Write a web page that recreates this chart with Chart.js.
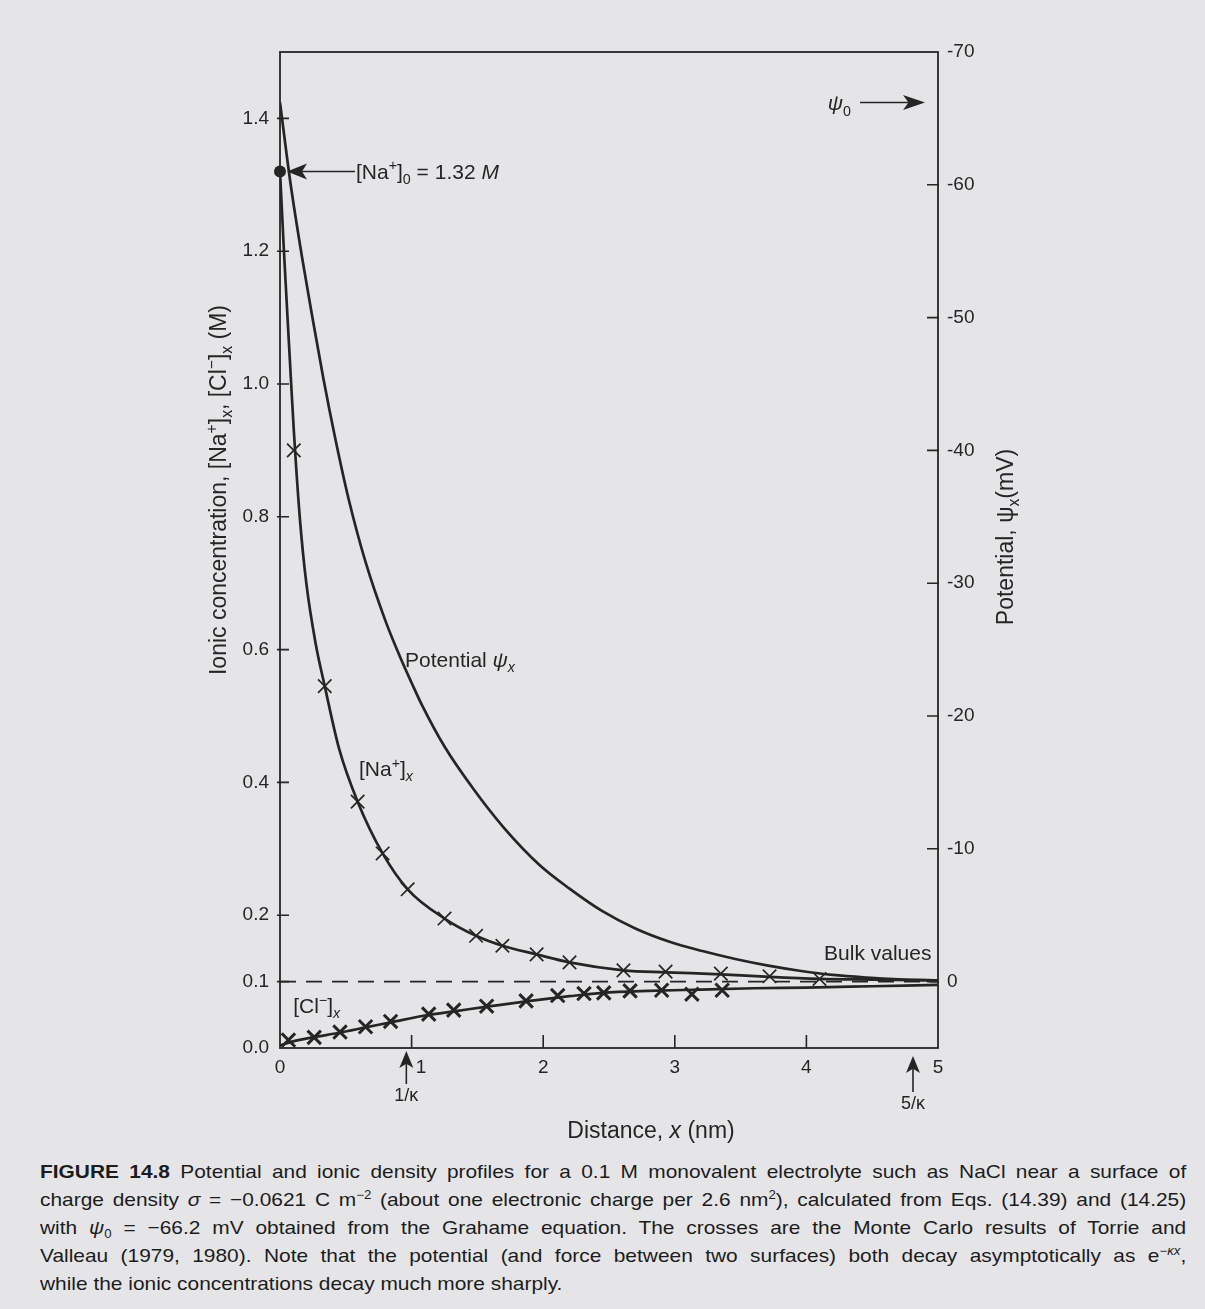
<!DOCTYPE html>
<html><head><meta charset="utf-8">
<script src="https://cdn.jsdelivr.net/npm/chart.js@4.4.0/dist/chart.umd.min.js"></script>
<style>
html,body{margin:0;padding:0;background:#e5e5e7;}
body{width:1205px;height:1309px;position:relative;overflow:hidden;}
#c{position:absolute;left:0;top:0;}
#cap{position:absolute;left:40px;top:1158px;width:1042px;font-family:"Liberation Sans",Arial,sans-serif;font-size:19px;color:#1c1c1c;line-height:28px;transform:scaleX(1.1);transform-origin:0 0;}
#cap .j{text-align:justify;text-align-last:justify;}
#cap sup{font-size:12px;line-height:0;vertical-align:7px;}
#cap sub{font-size:12px;line-height:0;vertical-align:-4px;}
</style></head><body>
<canvas id="c" width="1205" height="1150"></canvas>
<div id="cap">
<div class="j"><b>FIGURE 14.8</b> Potential and ionic density profiles for a 0.1 M monovalent electrolyte such as NaCl near a surface of</div>
<div class="j">charge density <i>σ</i> = −0.0621 C m<sup>−2</sup> (about one electronic charge per 2.6 nm<sup>2</sup>), calculated from Eqs. (14.39) and (14.25)</div>
<div class="j">with <i>ψ</i><sub>0</sub> = −66.2 mV obtained from the Grahame equation. The crosses are the Monte Carlo results of Torrie and</div>
<div class="j">Valleau (1979, 1980). Note that the potential (and force between two surfaces) both decay asymptotically as e<sup>−<i>κx</i></sup>,</div>
<div>while the ionic concentrations decay much more sharply.</div>
</div>
<script>
// ---- data ----
const potentialX  = [0, 0.08, 0.17, 0.25, 0.33, 0.42, 0.52, 0.65, 0.8, 0.91, 1.0, 1.08, 1.25, 1.47, 1.7, 1.97, 2.2, 2.45, 2.7, 2.96, 3.21, 3.46, 3.71, 3.96, 4.2, 4.46, 4.7, 5.0];
const potentialMv = [-66.2, -60.1, -54.4, -49.8, -45.4, -40.9, -36.4, -31.6, -27.2, -24.5, -22.5, -20.8, -17.7, -14.5, -11.6, -8.8, -7.0, -5.3, -4.0, -3.0, -2.3, -1.7, -1.2, -0.8, -0.5, -0.3, -0.17, -0.08];

const naX = [0, 0.03, 0.06, 0.085, 0.105, 0.15, 0.2, 0.27, 0.34, 0.45, 0.59, 0.78, 0.97, 1.25, 1.49, 1.69, 1.95, 2.2, 2.61, 2.93, 3.35, 3.72, 4.1, 4.5, 5.0];
const naM = [1.32, 1.2, 1.09, 1.0, 0.93, 0.80, 0.70, 0.61, 0.545, 0.45, 0.371, 0.293, 0.239, 0.195, 0.169, 0.154, 0.141, 0.129, 0.117, 0.114, 0.111, 0.107, 0.104, 0.103, 0.102];

const clX = [0, 0.1, 0.25, 0.45, 0.65, 0.85, 1.1, 1.35, 1.6, 1.9, 2.2, 2.45, 2.8, 3.2, 3.6, 4.0, 4.5, 5.0];
const clM = [0.004, 0.010, 0.016, 0.023, 0.031, 0.039, 0.049, 0.056, 0.063, 0.071, 0.078, 0.083, 0.086, 0.088, 0.090, 0.091, 0.093, 0.095];

const naMcX = [0.105, 0.34, 0.59, 0.78, 0.97, 1.25, 1.49, 1.69, 1.95, 2.2, 2.61, 2.93, 3.35, 3.72, 4.1];
const naMcM = [0.90, 0.545, 0.371, 0.293, 0.239, 0.195, 0.169, 0.154, 0.141, 0.129, 0.117, 0.115, 0.112, 0.108, 0.104];

const clMcX = [0.064, 0.26, 0.456, 0.65, 0.84, 1.13, 1.32, 1.57, 1.87, 2.11, 2.31, 2.46, 2.66, 2.9, 3.13, 3.36];
const clMcM = [0.012, 0.016, 0.024, 0.032, 0.040, 0.051, 0.057, 0.063, 0.071, 0.079, 0.082, 0.083, 0.086, 0.087, 0.081, 0.087];

const bulkX = [0, 5];
const bulkM = [0.1, 0.1];
const naSurfaceX = [0];
const naSurfaceM = [1.32];
const psi0Mv = -66.2;

const concTicks = [0, 0.1, 0.2, 0.4, 0.6, 0.8, 1.0, 1.2, 1.4];
const potTicks  = [-70, -60, -50, -40, -30, -20, -10, 0];
const distTicks = [0, 1, 2, 3, 4, 5];
const distTickLabels = ['0', '\u20031', '2', '3', '4', '5'];
const debyeMarks = [0.96, 4.81];
const debyeLabels = ['1/κ', '5/κ'];

// ---- drawing ----
const FONT = '"Liberation Sans", Arial, sans-serif';
const INK = '#252525';
Chart.defaults.font.family = FONT;
const pts = (xs, ys) => xs.map((x, i) => ({x: x, y: ys[i]}));

function rich(ctx, parts, x, y, size, align) {
  let w = 0;
  const segs = parts.map(p => {
    const fs = (p.sup || p.sub) ? size * 0.68 : size;
    const font = (p.it ? 'italic ' : '') + (p.b ? 'bold ' : '') + fs + 'px ' + FONT;
    ctx.font = font;
    const width = ctx.measureText(p.t).width;
    w += width;
    return {p, font, width};
  });
  let cx = align === 'right' ? x - w : align === 'center' ? x - w / 2 : x;
  ctx.textAlign = 'left';
  ctx.textBaseline = 'alphabetic';
  segs.forEach(s => {
    ctx.font = s.font;
    const dy = s.p.sup ? -size * 0.4 : s.p.sub ? size * 0.25 : 0;
    ctx.fillText(s.p.t, cx, y + dy);
    cx += s.width;
  });
  return w;
}

function arrowHead(ctx, tx, ty, dir, len, half) {
  ctx.beginPath();
  if (dir === 'left') { ctx.moveTo(tx, ty); ctx.lineTo(tx + len, ty - half); ctx.lineTo(tx + len * 0.75, ty); ctx.lineTo(tx + len, ty + half); }
  if (dir === 'right') { ctx.moveTo(tx, ty); ctx.lineTo(tx - len, ty - half); ctx.lineTo(tx - len * 0.75, ty); ctx.lineTo(tx - len, ty + half); }
  if (dir === 'up') { ctx.moveTo(tx, ty); ctx.lineTo(tx - half, ty + len); ctx.lineTo(tx, ty + len * 0.75); ctx.lineTo(tx + half, ty + len); }
  ctx.closePath();
  ctx.fill();
}

const decor = {
  id: 'decor',
  afterDraw(chart) {
    const ctx = chart.ctx, ca = chart.chartArea;
    const xs = chart.scales.x, yc = chart.scales.yConc, yp = chart.scales.yPot;
    ctx.save();
    ctx.strokeStyle = INK; ctx.fillStyle = INK;
    ctx.lineWidth = 1.8;
    ctx.strokeRect(ca.left, ca.top, ca.right - ca.left, ca.bottom - ca.top);
    ctx.lineWidth = 1.6;
    ctx.beginPath();
    concTicks.forEach(v => { const y = yc.getPixelForValue(v); if (v > 0) { ctx.moveTo(ca.left - 3, y); ctx.lineTo(ca.left + 9, y); } });
    potTicks.forEach(v => { const y = yp.getPixelForValue(v); if (v > -70) { ctx.moveTo(ca.right - 11, y); ctx.lineTo(ca.right + 1, y); } });
    distTicks.forEach(v => { if (v > 0 && v < 5) { const x = xs.getPixelForValue(v); ctx.moveTo(x, ca.bottom); ctx.lineTo(x, ca.bottom - 13); } });
    ctx.stroke();

    debyeMarks.forEach((v, i) => {
      const x = xs.getPixelForValue(v);
      const tip = ca.bottom + (i === 0 ? 3 : 8);
      const tail = ca.bottom + (i === 0 ? 36 : 44);
      arrowHead(ctx, x, tip, 'up', 17, 7);
      ctx.lineWidth = 1.6;
      ctx.beginPath(); ctx.moveTo(x, tip + 12); ctx.lineTo(x, tail); ctx.stroke();
      rich(ctx, [{t: debyeLabels[i]}], x, tail + 17, 18, 'center');
    });

    const x0 = xs.getPixelForValue(naSurfaceX[0]);
    const yNa0 = yc.getPixelForValue(naSurfaceM[0]);
    const txtLeft = x0 + 76;
    arrowHead(ctx, x0 + 7, yNa0, 'left', 20, 8);
    ctx.lineWidth = 1.6;
    ctx.beginPath(); ctx.moveTo(x0 + 20, yNa0); ctx.lineTo(txtLeft - 1, yNa0); ctx.stroke();
    rich(ctx, [{t: '[Na'}, {t: '+', sup: true}, {t: ']'}, {t: '0', sub: true}, {t: ' = 1.32 '}, {t: 'M', it: true}], txtLeft, yNa0 + 7, 21, 'left');

    const yPsi0 = yp.getPixelForValue(psi0Mv);
    ctx.beginPath(); ctx.moveTo(ca.right - 78, yPsi0); ctx.lineTo(ca.right - 25, yPsi0); ctx.stroke();
    arrowHead(ctx, ca.right - 13, yPsi0, 'right', 22, 7.5);
    rich(ctx, [{t: 'ψ', it: true}, {t: '0', sub: true}], ca.right - 87, yPsi0 + 8, 21, 'right');

    rich(ctx, [{t: 'Potential '}, {t: 'ψ', it: true}, {t: 'x', it: true, sub: true}], xs.getPixelForValue(0.95), yc.getPixelForValue(0.585) + 7, 21, 'left');
    rich(ctx, [{t: '[Na'}, {t: '+', sup: true}, {t: ']'}, {t: 'x', it: true, sub: true}], xs.getPixelForValue(0.6), yc.getPixelForValue(0.42) + 7, 21, 'left');
    rich(ctx, [{t: '[Cl'}, {t: '−', sup: true}, {t: ']'}, {t: 'x', it: true, sub: true}], xs.getPixelForValue(0.1), yc.getPixelForValue(0.063) + 7, 21, 'left');
    rich(ctx, [{t: 'Bulk values'}], xs.getPixelForValue(4.95), yc.getPixelForValue(0.143) + 7, 21, 'right');

    rich(ctx, [{t: 'Distance, '}, {t: 'x', it: true}, {t: ' (nm)'}], 651, 1138, 23, 'center');
    ctx.save();
    ctx.translate(218, 490); ctx.rotate(-Math.PI / 2);
    rich(ctx, [{t: 'Ionic concentration, [Na'}, {t: '+', sup: true}, {t: ']'}, {t: 'x', sub: true}, {t: ', [Cl'}, {t: '−', sup: true}, {t: ']'}, {t: 'x', sub: true}, {t: ' (M)'}], 0, 8, 23, 'center');
    ctx.restore();
    ctx.save();
    ctx.translate(1005, 537); ctx.rotate(-Math.PI / 2);
    rich(ctx, [{t: 'Potential, '}, {t: 'ψ'}, {t: 'x', sub: true}, {t: '(mV)'}], 0, 8, 23, 'center');
    ctx.restore();
    ctx.restore();
  }
};

const lineDs = (label, data, axis, extra) => Object.assign({
  label, data, yAxisID: axis, borderColor: INK, backgroundColor: INK,
  borderWidth: 2.7, pointRadius: 0, cubicInterpolationMode: 'monotone', fill: false
}, extra || {});

new Chart(document.getElementById('c').getContext('2d'), {
  type: 'line',
  data: {
    datasets: [
      lineDs('Potential ψx', pts(potentialX, potentialMv), 'yPot'),
      lineDs('[Na+]x', pts(naX, naM), 'yConc'),
      lineDs('[Cl-]x', pts(clX, clM), 'yConc'),
      lineDs('Bulk', pts(bulkX, bulkM), 'yConc', {borderDash: [16, 10], borderWidth: 1.7, cubicInterpolationMode: 'default'}),
      {label: '[Na+] Monte Carlo', data: pts(naMcX, naMcM), yAxisID: 'yConc', showLine: false, pointStyle: 'crossRot', pointRadius: 9.5, pointBorderWidth: 1.7, pointBorderColor: INK, pointBackgroundColor: INK},
      {label: '[Cl-] Monte Carlo', data: pts(clMcX, clMcM), yAxisID: 'yConc', showLine: false, pointStyle: 'crossRot', pointRadius: 9.5, pointBorderWidth: 3, pointBorderColor: INK, pointBackgroundColor: INK},
      {label: '[Na+]0', data: pts(naSurfaceX, naSurfaceM), yAxisID: 'yConc', showLine: false, pointStyle: 'circle', pointRadius: 6, pointBorderWidth: 0, pointBackgroundColor: INK, clip: false}
    ]
  },
  options: {
    responsive: false, animation: false, devicePixelRatio: 1,
    layout: {padding: {top: 52, left: 0, right: 0, bottom: 0}},
    plugins: {legend: {display: false}, tooltip: {enabled: false}},
    scales: {
      x: {
        type: 'linear', min: 0, max: 5,
        grid: {display: false, drawTicks: false}, border: {display: false},
        afterBuildTicks: s => { s.ticks = distTicks.map(v => ({value: v})); },
        afterFit: s => { s.height = 1150 - 1048; },
        ticks: {autoSkip: false, maxRotation: 0, padding: 8, color: INK, font: {size: 19},
          callback: (v) => distTickLabels[distTicks.indexOf(v)]}
      },
      yConc: {
        type: 'linear', position: 'left', min: 0, max: 1.5,
        grid: {display: false, drawTicks: false}, border: {display: false},
        afterBuildTicks: s => { s.ticks = concTicks.map(v => ({value: v})); },
        afterFit: s => { s.width = 280; },
        ticks: {autoSkip: false, padding: 11, color: INK, font: {size: 19}, callback: v => v.toFixed(1)}
      },
      yPot: {
        type: 'linear', position: 'right', min: -70, max: 5, reverse: true,
        grid: {display: false, drawTicks: false}, border: {display: false},
        afterBuildTicks: s => { s.ticks = potTicks.map(v => ({value: v})); },
        afterFit: s => { s.width = 1205 - 938; },
        ticks: {autoSkip: false, padding: 9, color: INK, font: {size: 19}, callback: v => String(v)}
      }
    }
  },
  plugins: [decor]
});
</script>
</body></html>
